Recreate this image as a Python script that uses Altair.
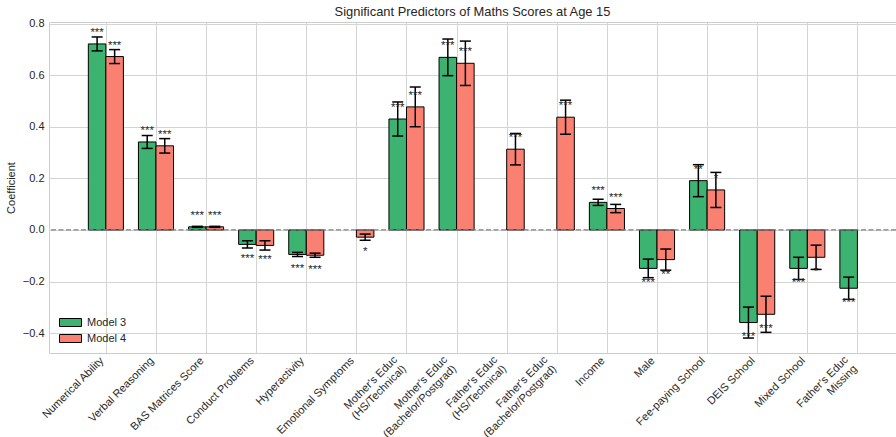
import altair as alt
import pandas as pd

# Predictor names (line breaks mark two-line tick labels)
categories = [
    "Numerical Ability", "Verbal Reasoning", "BAS Matrices Score", "Conduct Problems",
    "Hyperactivity", "Emotional Symptoms", "Mother's Educ\n(HS/Technical)",
    "Mother's Educ\n(Bachelor/Postgrad)", "Father's Educ\n(HS/Technical)",
    "Father's Educ\n(Bachelor/Postgrad)", "Income", "Male", "Fee-paying School",
    "DEIS School", "Mixed School", "Father's Educ\nMissing",
]
models = ["Model 3", "Model 4"]

# Coefficients, error-bar half widths and significance stars (None = not significant)
m3_coef = [0.721, 0.341, 0.012, -0.056, -0.095, None, 0.430, 0.669, None, None,
           0.107, -0.149, 0.191, -0.359, -0.149, -0.226]
m3_err = [0.027, 0.025, 0.002, 0.014, 0.008, None, 0.066, 0.071, None, None,
          0.012, 0.036, 0.062, 0.060, 0.043, 0.043]
m3_sig = ["***", "***", "***", "***", "***", None, "***", "***", None, None,
          "***", "***", "**", "***", "***", "***"]

m4_coef = [0.672, 0.326, 0.012, -0.060, -0.098, -0.028, 0.477, 0.646, 0.313, 0.437,
           0.083, -0.115, 0.155, -0.327, -0.106, None]
m4_err = [0.027, 0.028, 0.002, 0.018, 0.008, 0.012, 0.077, 0.086, 0.061, 0.066,
          0.016, 0.041, 0.068, 0.070, 0.047, None]
m4_sig = ["***", "***", "***", "***", "***", "*", "***", "***", "***", "***",
          "***", "**", "*", "***", "*", None]

y_ticks = [-0.4, -0.2, 0.0, 0.2, 0.4, 0.6, 0.8]

rows = []
for model, coefs, errs, sigs in [("Model 3", m3_coef, m3_err, m3_sig),
                                 ("Model 4", m4_coef, m4_err, m4_sig)]:
    for i, (c, e, s) in enumerate(zip(coefs, errs, sigs)):
        if c is None:
            continue
        rows.append({"idx": i, "model": model, "coef": c, "err": e, "sig": s})
coef_df = pd.DataFrame(rows)

labels_df = pd.DataFrame({
    "idx": list(range(len(categories))),
    "label": categories,
    "lines": [c.count("\n") + 1 for c in categories],
})

FONT = "Liberation Sans"
TEXT = "#262626"

x_scale = alt.Scale(domain=[-1.135, 15.77], nice=False, zero=False)
y_scale = alt.Scale(domain=[-0.477, 0.806], nice=False, zero=False)

# Shared axis definitions so every layer merges into the same axes
x_axis = alt.Axis(values=list(range(len(categories))), labels=False, ticks=False,
                  domain=False, grid=True, title=None)
y_axis = alt.Axis(values=y_ticks, format=".1f", title="Coefficient", ticks=False,
                  domain=False, grid=True)

base = alt.Chart(coef_df).transform_calculate(
    x0="datum.idx + (datum.model == 'Model 3' ? -0.35 : 0)",
    x1="datum.x0 + 0.35",
    xc="datum.x0 + 0.175",
    cl="datum.xc - 0.11",
    cr="datum.xc + 0.11",
    lo="datum.coef - datum.err",
    hi="datum.coef + datum.err",
    ly="datum.coef >= 0 ? datum.coef + 0.05 : datum.coef - 0.05",
)

bars = base.mark_bar(stroke="black", strokeWidth=1, opacity=1).encode(
    x=alt.X("x0:Q", scale=x_scale, axis=x_axis),
    x2="x1:Q",
    y=alt.Y("coef:Q", scale=y_scale, axis=y_axis),
    y2=alt.datum(0),
    color=alt.Color(
        "model:N",
        scale=alt.Scale(domain=models, range=["#3cb371", "#fa8072"]),
        legend=alt.Legend(
            title=None, orient="none", legendX=16, legendY=295, direction="vertical",
            symbolType="M-2.75,-1H2.75V1H-2.75Z", symbolSize=64,
            symbolStrokeColor="black", symbolStrokeWidth=1, symbolOpacity=1,
            labelFontSize=11, labelColor=TEXT, labelFont=FONT, labelOffset=11,
            rowPadding=3,
        ),
    ),
)

err = base.mark_rule(color="black", strokeWidth=1.5).encode(
    x=alt.X("xc:Q", scale=x_scale, axis=x_axis),
    y=alt.Y("lo:Q", scale=y_scale, axis=y_axis),
    y2="hi:Q",
)
cap_hi = base.mark_rule(color="black", strokeWidth=1.5).encode(
    x=alt.X("cl:Q", scale=x_scale, axis=x_axis),
    x2="cr:Q",
    y=alt.Y("hi:Q", scale=y_scale, axis=y_axis),
)
cap_lo = base.mark_rule(color="black", strokeWidth=1.5).encode(
    x=alt.X("cl:Q", scale=x_scale, axis=x_axis),
    x2="cr:Q",
    y=alt.Y("lo:Q", scale=y_scale, axis=y_axis),
)

zero = alt.Chart(pd.DataFrame({"v": [0.0]})).mark_rule(
    color="#808080", strokeDash=[5, 2.5], strokeWidth=1.2
).encode(y=alt.Y("v:Q", scale=y_scale, axis=y_axis))

stars = base.transform_filter("isValid(datum.sig)").mark_text(
    fontSize=11.5, font=FONT, color=TEXT, baseline="middle", dy=2
).encode(
    x=alt.X("xc:Q", scale=x_scale, axis=x_axis),
    y=alt.Y("ly:Q", scale=y_scale, axis=y_axis),
    text="sig:N",
)

label_style = dict(angle=315, align="right", baseline="top", fontSize=11, font=FONT,
                   color=TEXT, lineBreak="\n", lineHeight=12.5)
labels_one = alt.Chart(labels_df).transform_filter("datum.lines == 1").mark_text(
    dx=-3.5, dy=-7.8, **label_style
).encode(
    x=alt.X("idx:Q", scale=x_scale, axis=x_axis),
    y=alt.value(336),
    text="label:N",
)
labels_two = alt.Chart(labels_df).transform_filter("datum.lines == 2").mark_text(
    dx=-7.9, dy=-13.4, **label_style
).encode(
    x=alt.X("idx:Q", scale=x_scale, axis=x_axis),
    y=alt.value(336),
    text="label:N",
)

chart = alt.layer(
    bars, err, cap_hi, cap_lo, zero, stars, labels_one, labels_two
).properties(
    width=847,
    height=331,
    padding={"left": 49, "top": 22, "right": 0, "bottom": 84},
    autosize=alt.AutoSizeParams(type="none"),
    background="white",
    title=alt.TitleParams(
        "Significant Predictors of Maths Scores at Age 15",
        fontSize=12.9, fontWeight="normal", color=TEXT, font=FONT, offset=-1, anchor="middle",
    ),
).configure(
    font=FONT,
).configure_view(
    stroke="#cccccc", strokeWidth=1,
).configure_axis(
    gridColor="#d4d4d4", gridWidth=1, labelFont=FONT, labelFontSize=11, labelColor=TEXT,
    titleFont=FONT, titleFontSize=11, titleColor=TEXT, titleFontWeight="normal",
    labelPadding=5, titlePadding=6,
)

chart.save("out.html", embed_options={"renderer": "svg", "actions": False})
